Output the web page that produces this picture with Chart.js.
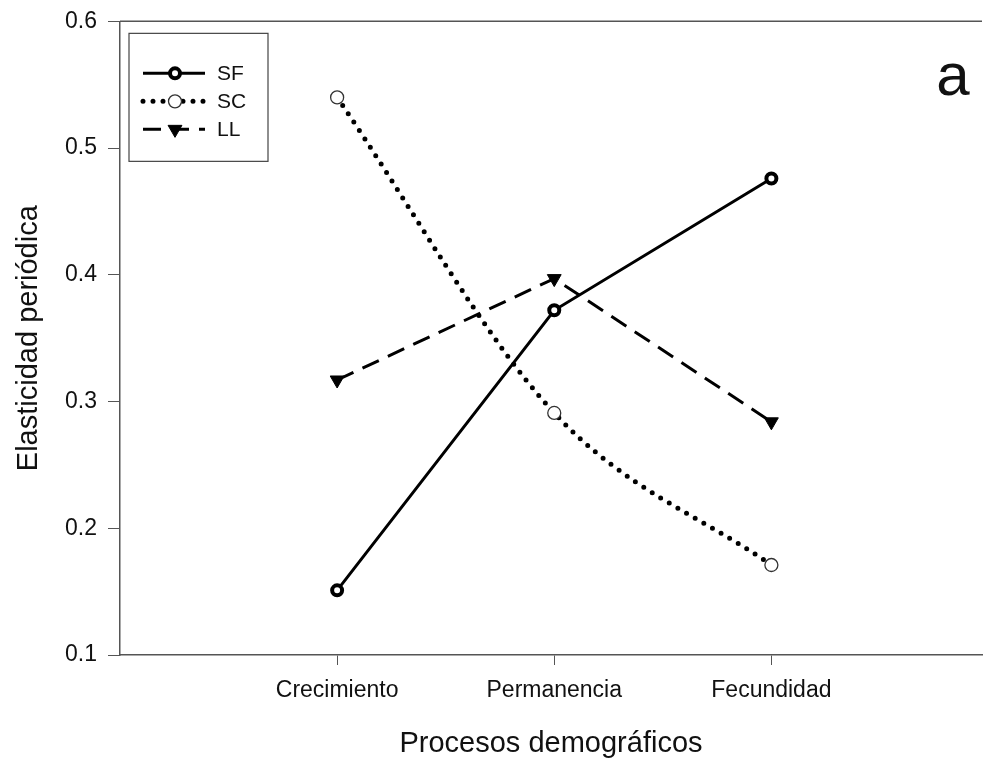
<!DOCTYPE html>
<html>
<head>
<meta charset="utf-8">
<script src="https://cdn.jsdelivr.net/npm/chart.js@4/dist/chart.umd.min.js"></script>
<style>
  html, body { margin: 0; padding: 0; background: #fff; overflow: hidden; }
  #wrap { width: 991px; height: 765px; }
</style>
</head>
<body>
<div id="wrap"><canvas id="canvasElasticidad"></canvas></div>
<script>
// Datos
const procesos = ['Crecimiento', 'Permanencia', 'Fecundidad'];
const valoresSF = [0.151, 0.372, 0.476];
const valoresSC = [0.540, 0.291, 0.171];
const valoresLL = [0.317, 0.397, 0.284];
const ticksY = [0.1, 0.2, 0.3, 0.4, 0.5, 0.6];

const fuente = "'Liberation Sans', Arial, sans-serif";

const aPuntos = (valores) => valores.map((v, i) => ({ x: i, y: v }));

// Leyenda dibujada a mano (línea + marcador + texto)
const leyendaPlugin = {
    id: 'leyendaCaja',
    afterDraw(chart) {
        const ctx = chart.ctx;
        const area = chart.chartArea;
        ctx.save();
        // línea superior del marco
        ctx.strokeStyle = '#555';
        ctx.lineWidth = 1.5;
        ctx.beginPath();
        ctx.moveTo(area.left, area.top);
        ctx.lineTo(area.right, area.top);
        ctx.stroke();

        // caja de la leyenda
        const x0 = area.left + 9, y0 = area.top + 12;
        ctx.strokeStyle = '#444';
        ctx.lineWidth = 1.2;
        ctx.strokeRect(x0, y0, 139, 128);

        chart.data.datasets.forEach((ds, i) => {
            const y = y0 + 40 + i * 28;
            ctx.save();
            ctx.strokeStyle = ds.borderColor;
            ctx.lineWidth = ds.borderWidth;
            ctx.lineCap = ds.borderCapStyle || 'butt';
            ctx.setLineDash(ds.borderDash || []);
            ctx.beginPath();
            ctx.moveTo(x0 + 14, y);
            ctx.lineTo(x0 + 76, y);
            ctx.stroke();
            ctx.restore();

            ctx.save();
            ctx.fillStyle = ds.pointBackgroundColor;
            ctx.strokeStyle = ds.pointBorderColor;
            ctx.lineWidth = ds.pointBorderWidth;
            Chart.helpers.drawPoint(ctx, {
                pointStyle: ds.pointStyle,
                radius: ds.pointRadius,
                rotation: ds.pointRotation || 0,
                borderWidth: ds.pointBorderWidth
            }, x0 + 46, y);
            ctx.restore();

            ctx.fillStyle = '#111';
            ctx.font = '21px ' + fuente;
            ctx.textBaseline = 'middle';
            ctx.fillText(ds.label, x0 + 88, y + 1);
        });

        // etiqueta del panel
        ctx.fillStyle = '#111';
        ctx.font = '60px ' + fuente;
        ctx.textAlign = 'center';
        ctx.textBaseline = 'middle';
        ctx.fillText('a', 953, 78);
        ctx.restore();
    }
};

const ctx = document.getElementById('canvasElasticidad').getContext('2d');
new Chart(ctx, {
    type: 'line',
    data: {
        datasets: [{
            label: 'SF',
            data: aPuntos(valoresSF),
            borderColor: '#000',
            borderWidth: 3,
            borderDash: [],
            tension: 0,
            pointStyle: 'circle',
            pointRadius: 5,
            pointBorderWidth: 4,
            pointBackgroundColor: '#fff',
            pointBorderColor: '#000'
        },
        {
            label: 'SC',
            data: aPuntos(valoresSC),
            borderColor: '#000',
            borderWidth: 5,
            borderDash: [0, 10],
            borderCapStyle: 'round',
            cubicInterpolationMode: 'monotone',
            pointStyle: 'circle',
            pointRadius: 6.5,
            pointBorderWidth: 1.3,
            pointBackgroundColor: '#fff',
            pointBorderColor: '#333'
        },
        {
            label: 'LL',
            data: aPuntos(valoresLL),
            borderColor: '#000',
            borderWidth: 3,
            borderDash: [18, 10],
            tension: 0,
            pointStyle: 'triangle',
            pointRotation: 180,
            pointRadius: 8,
            pointBorderWidth: 1,
            pointBackgroundColor: '#000',
            pointBorderColor: '#000'
        }]
    },
    options: {
        responsive: true,
        maintainAspectRatio: false,
        animation: false,
        layout: { padding: { top: 19, right: 0, left: 0, bottom: 0 } },
        plugins: {
            legend: { display: false },
            tooltip: { enabled: false }
        },
        scales: {
            x: {
                type: 'linear',
                min: -1,
                max: 2.97,
                afterBuildTicks: (s) => { s.ticks = procesos.map((p, i) => ({ value: i })); },
                afterFit: (s) => { s.height = 110; },
                ticks: {
                    callback: (v) => procesos[v],
                    color: '#111',
                    font: { family: fuente, size: 23 },
                    padding: 12,
                    maxRotation: 0
                },
                grid: { drawOnChartArea: false, drawTicks: true, tickLength: 10, color: '#555', tickWidth: 1 },
                border: { display: true, color: '#555', width: 1.5 },
                title: {
                    display: true,
                    text: 'Procesos demográficos',
                    color: '#111',
                    font: { family: fuente, size: 29 },
                    padding: { top: 8 }
                }
            },
            y: {
                min: 0.1,
                max: 0.6,
                afterBuildTicks: (s) => { s.ticks = ticksY.map(v => ({ value: v })); },
                afterFit: (s) => { s.width = 120; },
                ticks: {
                    callback: (v) => v.toFixed(1),
                    color: '#111',
                    font: { family: fuente, size: 23, lineHeight: 0.9 },
                    padding: 11
                },
                grid: { drawOnChartArea: false, drawTicks: true, tickLength: 12, color: '#555', tickWidth: 1 },
                border: { display: true, color: '#555', width: 1.5 },
                title: {
                    display: true,
                    text: 'Elasticidad periódica',
                    color: '#111',
                    font: { family: fuente, size: 29 },
                    padding: { top: 12, bottom: 4 }
                }
            }
        }
    },
    plugins: [leyendaPlugin]
});
</script>
</body>
</html>
